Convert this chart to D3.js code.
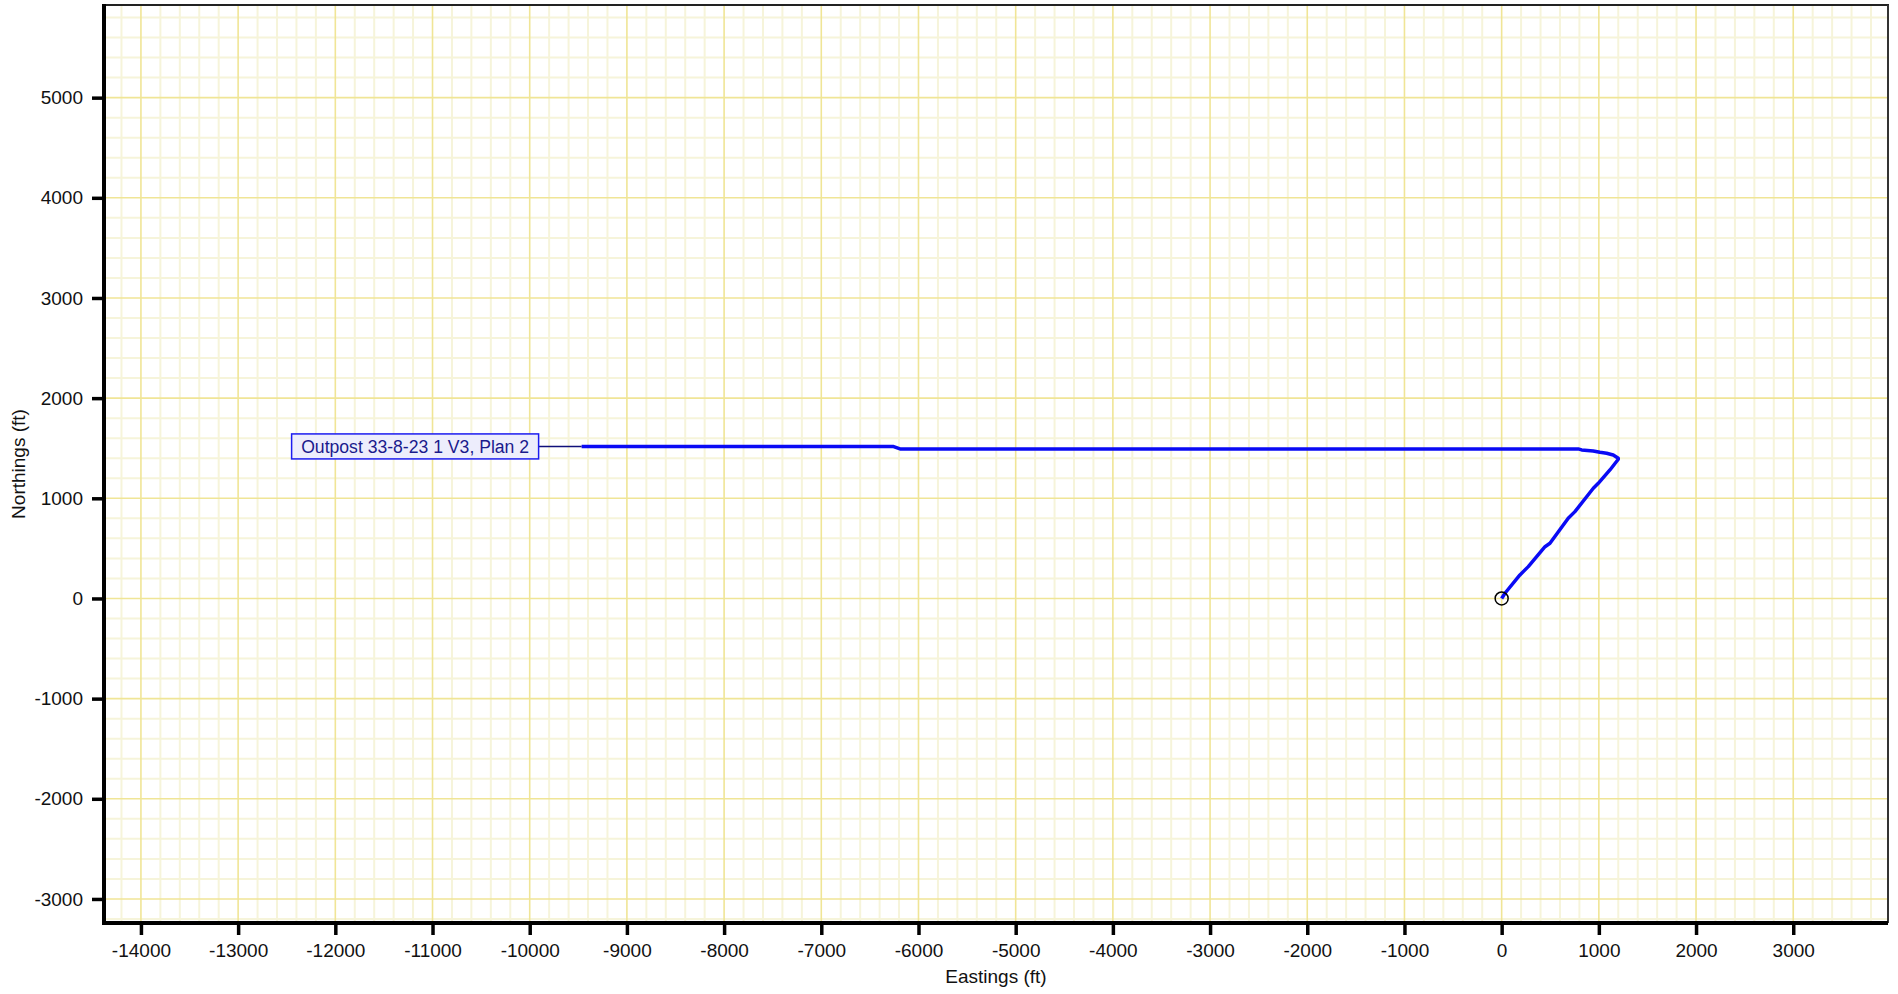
<!DOCTYPE html>
<html>
<head>
<meta charset="utf-8">
<script src="https://cdn.jsdelivr.net/npm/d3@7"></script>
<style>
  html, body { margin: 0; padding: 0; background: #ffffff; }
  svg { display: block; }
  text { font-family: "Liberation Sans", Arial, sans-serif; }
</style>
</head>
<body>
<svg id="chart" width="1898" height="994"></svg>
<script>
// ---- data ----
const eastings  = [0, 34, 188, 274, 446, 497, 685, 754, 943, 994, 1114, 1200, 1200, 1148, 1080, 1011, 942, 823, 788, -6190, -6263, -9466];
const northings = [0, 52, 235, 318, 517, 551, 801, 867, 1100, 1150, 1283, 1390, 1400, 1433, 1450, 1460, 1473, 1483, 1493, 1493, 1518, 1518];
const wellLabel = "Outpost 33-8-23 1 V3, Plan 2";
const xTicks = [-14000, -13000, -12000, -11000, -10000, -9000, -8000, -7000, -6000, -5000, -4000, -3000, -2000, -1000, 0, 1000, 2000, 3000];
const yTicks = [-3000, -2000, -1000, 0, 1000, 2000, 3000, 4000, 5000];
const xDomain = [-14380, 3975];
const yDomain = [-3240, 5925];
const minorStep = 200;
const xTitle = "Eastings (ft)";
const yTitle = "Northings (ft)";

// ---- layout ----
const L = 104, R = 1888, T = 5, B = 923;
const svg = d3.select("#chart");
const x = d3.scaleLinear().domain(xDomain).range([L, R]);
const y = d3.scaleLinear().domain(yDomain).range([B, T]);

svg.append("defs").append("clipPath").attr("id", "plotclip")
  .append("rect").attr("x", L).attr("y", T).attr("width", R - L).attr("height", B - T);

const grid = svg.append("g").attr("clip-path", "url(#plotclip)");
const xMinor = d3.range(Math.ceil(xDomain[0] / minorStep) * minorStep, xDomain[1], minorStep).filter(v => v % 1000 !== 0);
const yMinor = d3.range(Math.ceil(yDomain[0] / minorStep) * minorStep, yDomain[1], minorStep).filter(v => v % 1000 !== 0);
const xMajor = d3.range(Math.ceil(xDomain[0] / 1000) * 1000, xDomain[1], 1000);
const yMajor = d3.range(Math.ceil(yDomain[0] / 1000) * 1000, yDomain[1], 1000);

grid.selectAll("line.xmin").data(xMinor).join("line")
  .attr("x1", d => x(d)).attr("x2", d => x(d)).attr("y1", T).attr("y2", B)
  .attr("stroke", "#f6f4da").attr("stroke-width", 2);
grid.selectAll("line.ymin").data(yMinor).join("line")
  .attr("x1", L).attr("x2", R).attr("y1", d => y(d)).attr("y2", d => y(d))
  .attr("stroke", "#f6f4da").attr("stroke-width", 2);
grid.selectAll("line.xmaj").data(xMajor).join("line")
  .attr("x1", d => x(d)).attr("x2", d => x(d)).attr("y1", T).attr("y2", B)
  .attr("stroke", "#f0e596").attr("stroke-width", 1.6);
grid.selectAll("line.ymaj").data(yMajor).join("line")
  .attr("x1", L).attr("x2", R).attr("y1", d => y(d)).attr("y2", d => y(d))
  .attr("stroke", "#f0e596").attr("stroke-width", 1.6);

// top & right border
svg.append("line").attr("x1", L).attr("x2", R + 1).attr("y1", T).attr("y2", T).attr("stroke", "#222").attr("stroke-width", 2);
svg.append("line").attr("x1", R).attr("x2", R).attr("y1", T).attr("y2", B).attr("stroke", "#333").attr("stroke-width", 2);

// well path
const pts = eastings.map((e, i) => [e, northings[i]]);
svg.append("path").datum(pts)
  .attr("d", d3.line().x(d => x(d[0])).y(d => y(d[1])))
  .attr("fill", "none").attr("stroke", "#0a0af5").attr("stroke-width", 3.5)
  .attr("stroke-linejoin", "round").attr("stroke-linecap", "butt");

// origin marker
svg.append("circle").attr("cx", x(eastings[0])).attr("cy", y(northings[0])).attr("r", 6.5)
  .attr("fill", "none").attr("stroke", "#000").attr("stroke-width", 1.5);

// label with leader
const endE = eastings[eastings.length - 1], endN = northings[northings.length - 1];
const ex = x(endE), ey = y(endN);
const boxW = 247, boxH = 25, gap = 43;
const bx = ex - gap - boxW, by = ey - 12.5;
svg.append("line").attr("x1", bx + boxW).attr("x2", ex).attr("y1", ey).attr("y2", ey)
  .attr("stroke", "#10107a").attr("stroke-width", 1.5);
svg.append("rect").attr("x", bx).attr("y", by).attr("width", boxW).attr("height", boxH)
  .attr("fill", "#ededfc").attr("stroke", "#1c1cf0").attr("stroke-width", 1.5);
svg.append("text").attr("x", bx + boxW / 2).attr("y", by + boxH / 2).attr("dy", "0.35em")
  .attr("text-anchor", "middle").attr("font-size", 17.6).attr("fill", "#1a1a8c").text(wellLabel);

// axes
const fmt = d => String(d);
const xAxis = d3.axisBottom(x).tickValues(xTicks).tickFormat(fmt).tickSize(12).tickSizeOuter(0).tickPadding(9);
const yAxis = d3.axisLeft(y).tickValues(yTicks).tickFormat(fmt).tickSize(12).tickSizeOuter(0).tickPadding(9);

const gx = svg.append("g").attr("transform", `translate(0,${B})`).call(xAxis);
const gy = svg.append("g").attr("transform", `translate(${L},0)`).call(yAxis);
[gx, gy].forEach(g => {
  g.select(".domain").attr("stroke", "#000").attr("stroke-width", 4);
  g.selectAll(".tick line").attr("stroke", "#000").attr("stroke-width", 3.5);
  g.selectAll(".tick text").attr("font-size", 19).attr("fill", "#111")
    .attr("font-family", "'Liberation Sans', Arial, sans-serif");
});
gx.select(".domain").attr("d", `M${L - 2},0H${R}`);
gy.select(".domain").attr("d", `M0,${B + 2}V${T - 1}`);

// titles
svg.append("text").attr("x", (L + R) / 2).attr("y", 983).attr("text-anchor", "middle")
  .attr("font-size", 19).attr("fill", "#111").text(xTitle);
svg.append("text").attr("transform", `translate(25,${(T + B) / 2}) rotate(-90)`).attr("text-anchor", "middle")
  .attr("font-size", 19).attr("fill", "#111").text(yTitle);
</script>
</body>
</html>
